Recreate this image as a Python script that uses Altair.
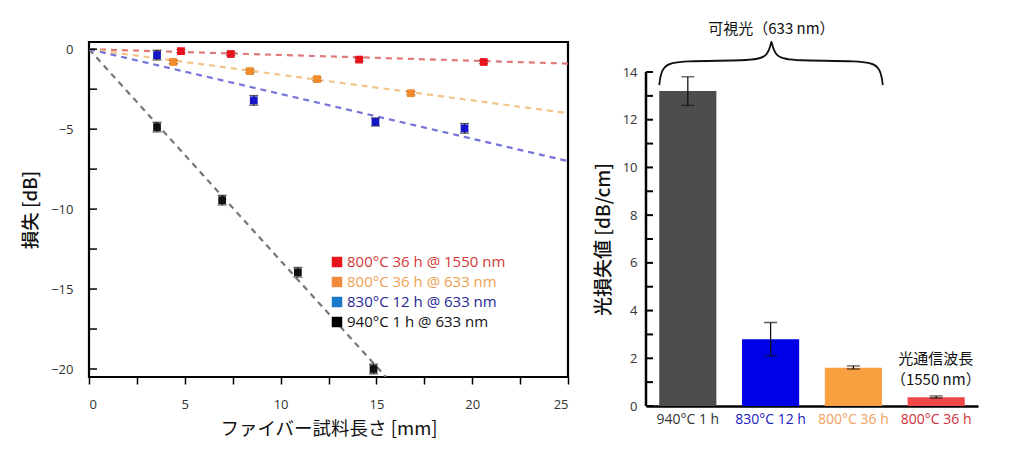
import altair as alt
import pandas as pd

# ---------------- data: left panel (loss vs fiber length) ----------------
series = ["800°C 36 h @ 1550 nm", "800°C 36 h @ 633 nm", "830°C 12 h @ 633 nm", "940°C 1 h @ 633 nm"]
marker_colors = ["#e8141c", "#f08a2a", "#1414c8", "#111111"]
legend_symbol_colors = ["#e8141c", "#f08a3c", "#1a78c8", "#000000"]
legend_text_colors = ["#d43838", "#f0a050", "#262696", "#111111"]
line_colors = ["#e07a7a", "#f2c48a", "#7474dc", "#767676"]

red_x = [4.8, 7.4, 14.1, 20.6]
red_y = [-0.12, -0.3, -0.65, -0.8]
red_err = [0.1, 0.1, 0.1, 0.1]
orange_x = [4.4, 8.4, 11.9, 16.8]
orange_y = [-0.8, -1.37, -1.87, -2.75]
orange_err = [0.1, 0.1, 0.1, 0.1]
blue_x = [3.55, 8.6, 14.95, 19.6]
blue_y = [-0.37, -3.2, -4.55, -4.95]
blue_err = [0.3, 0.3, 0.25, 0.3]
black_x = [3.55, 6.95, 10.9, 14.85]
black_y = [-4.87, -9.44, -13.95, -20.0]
black_err = [0.3, 0.3, 0.3, 0.3]

# fitted dashed lines (start at origin)
fit_end_x = [25, 25, 25, 15.5]
fit_end_y = [-0.9, -4.0, -7.0, -20.5]

x_tick_values = [0, 2.5, 5, 7.5, 10, 12.5, 15, 17.5, 20, 22.5, 25]
y_tick_values = [0, -2.5, -5, -7.5, -10, -12.5, -15, -17.5, -20]

# ---------------- data: right panel (loss per cm) ----------------
bar_labels = ["940°C 1 h", "830°C 12 h", "800°C 36 h", "800°C 36 h "]
bar_values = [13.2, 2.8, 1.6, 0.37]
bar_err_lo = [12.6, 2.1, 1.55, 0.33]
bar_err_hi = [13.8, 3.5, 1.68, 0.42]
bar_colors = ["#4d4d4d", "#0000e6", "#f9a040", "#f04848"]
bar_label_colors = ["#333333", "#2020c0", "#f0a060", "#d03040"]
bar_y_ticks = list(range(0, 15))

brace_x = [0.16, 0.19, 0.42, 1.25, 1.47, 1.515, 1.515, 1.56, 1.78, 2.6, 2.83, 2.86]
brace_y = [13.45, 14.3, 14.47, 14.47, 14.6, 15.3, 15.3, 14.6, 14.47, 14.47, 14.3, 13.45]

FONT_NUM = "Open Sans"
FONT_JP = "Noto Sans CJK JP"

# ---------------- left chart ----------------
W1, H1 = 479, 335
pts_rows, fit_rows = [], []
for name, col, xs, ys, es in [
    (series[0], marker_colors[0], red_x, red_y, red_err),
    (series[1], marker_colors[1], orange_x, orange_y, orange_err),
    (series[2], marker_colors[2], blue_x, blue_y, blue_err),
    (series[3], marker_colors[3], black_x, black_y, black_err),
]:
    for x, y, e in zip(xs, ys, es):
        pts_rows.append({"series": name, "col": col, "x": x, "y": y, "lo": y - e, "hi": y + e})
for name, lc, ex, ey in zip(series, line_colors, fit_end_x, fit_end_y):
    fit_rows.append({"series": name, "col": lc, "x": 0, "y": 0})
    fit_rows.append({"series": name, "col": lc, "x": ex, "y": ey})
pts = pd.DataFrame(pts_rows)
fits = pd.DataFrame(fit_rows)

xs1 = alt.Scale(domain=[0, 25], nice=False)
ys1 = alt.Scale(domain=[-20.5, 0.45], nice=False)

x_axis1 = alt.Axis(values=x_tick_values, labelExpr="datum.value % 5 == 0 ? datum.label : ''",
                   title="ファイバー試料長さ [mm]", titleFont=FONT_JP, titleFontSize=18.5,
                   titleFontWeight="normal", titleColor="#111", titlePadding=8,
                   labelFont=FONT_NUM, labelFontSize=13, labelColor="#333",
                   tickColor="black", tickSize=7, tickWidth=1.5, domain=False, grid=False,
                   labelPadding=14)
y_axis1 = alt.Axis(values=y_tick_values, labelExpr="datum.value % 5 == 0 ? datum.label : ''",
                   title="損失 [dB]", titleFont=FONT_JP, titleFontSize=18.5,
                   titleFontWeight=500, titleColor="#111", titlePadding=10,
                   labelFont=FONT_NUM, labelFontSize=13, labelColor="#333",
                   ticks=False, domain=False, grid=False, labelPadding=16)

fit_layer = alt.Chart(fits).mark_line(strokeDash=[6, 5], strokeWidth=2.2, clip=True).encode(
    x=alt.X("x:Q", scale=xs1, axis=x_axis1),
    y=alt.Y("y:Q", scale=ys1, axis=y_axis1),
    color=alt.Color("col:N", scale=None),
    detail="series:N",
)
err_layer = alt.Chart(pts).mark_errorbar(ticks=alt.TickConfig(size=9), thickness=1.3).encode(
    x=alt.X("x:Q", scale=xs1),
    y=alt.Y("lo:Q", scale=ys1, title=""),
    y2="hi:Q",
    color=alt.value("#111"),
)
pt_layer = alt.Chart(pts).mark_square(size=60, opacity=1).encode(
    x=alt.X("x:Q", scale=xs1),
    y=alt.Y("y:Q", scale=ys1),
    color=alt.Color("col:N", scale=None),
)
ytick_df = pd.DataFrame({"v": y_tick_values})
ytick_layer = alt.Chart(ytick_df).mark_rule(color="black", strokeWidth=1.5).encode(
    y=alt.Y("v:Q", scale=ys1),
    x=alt.value(0), x2=alt.value(8),
)

leg_df = pd.DataFrame({
    "series": series, "i": list(range(len(series))),
    "sc": legend_symbol_colors, "tc": legend_text_colors,
})
leg_sym = alt.Chart(leg_df).transform_calculate(py="220 + datum.i * 20").mark_square(size=110, opacity=1).encode(
    x=alt.value(248),
    y=alt.Y("py:Q", scale=None),
    color=alt.Color("sc:N", scale=None),
)
leg_txt = alt.Chart(leg_df).transform_calculate(py="220 + datum.i * 20").mark_text(
    align="left", baseline="middle", font=FONT_NUM, fontSize=15
).encode(
    x=alt.value(258),
    y=alt.Y("py:Q", scale=None),
    text="series:N",
    color=alt.Color("tc:N", scale=None),
)

left = alt.layer(fit_layer, err_layer, pt_layer, ytick_layer, leg_sym, leg_txt).properties(
    width=W1, height=H1,
    view=alt.ViewBackground(stroke="black", strokeWidth=2.2),
)

# ---------------- right chart ----------------
W2, H2 = 332, 364
YMAX2 = 14 * H2 / 334
bars = pd.DataFrame({"cat": bar_labels, "v": bar_values, "lo": bar_err_lo, "hi": bar_err_hi,
                     "col": bar_colors})
xs2 = alt.Scale(domain=bar_labels, paddingInner=0.31, paddingOuter=0.16)
ys2 = alt.Scale(domain=[0, YMAX2], nice=False)

color_expr = " : ".join(
    f"datum.value === '{l}' ? '{c}'" for l, c in zip(bar_labels[:-1], bar_label_colors[:-1])
) + f" : '{bar_label_colors[-1]}'"

x_axis2 = alt.Axis(title=None, labelAngle=0, labelFont=FONT_NUM, labelFontSize=14,
                   labelColor=alt.ExprRef(expr=color_expr), ticks=False, domainColor="black",
                   domainWidth=2.5, labelPadding=6)
y_axis2 = alt.Axis(values=list(range(0, 15, 2)), title="光損失値 [dB/cm]", titleFont=FONT_JP,
                   titleFontSize=19, titleFontWeight=500, titleColor="#111", titlePadding=9,
                   titleY=197,
                   labelFont=FONT_NUM, labelFontSize=13, labelColor="#333",
                   ticks=False, domain=False, grid=False, labelPadding=9)

bar_layer = alt.Chart(bars).mark_bar().encode(
    x=alt.X("cat:N", scale=xs2, axis=x_axis2, sort=bar_labels),
    y=alt.Y("v:Q", scale=ys2, axis=y_axis2),
    color=alt.Color("col:N", scale=None),
)
bar_err = alt.Chart(bars).mark_errorbar(ticks=alt.TickConfig(size=13), thickness=1.3).encode(
    x=alt.X("cat:N", scale=xs2, sort=bar_labels),
    y=alt.Y("lo:Q", scale=ys2, title=""),
    y2="hi:Q",
    color=alt.value("#111"),
)
ytk2 = alt.Chart(pd.DataFrame({"v": bar_y_ticks})).mark_rule(color="black", strokeWidth=2).encode(
    y=alt.Y("v:Q", scale=ys2), x=alt.value(0), x2=alt.value(7),
)
yline2 = alt.Chart(pd.DataFrame({"a": [0], "b": [14]})).mark_rule(color="black", strokeWidth=2.5).encode(
    y=alt.Y("a:Q", scale=ys2), y2="b:Q", x=alt.value(0),
)
bars_group = alt.layer(bar_layer, bar_err, ytk2, yline2)

brace_df = pd.DataFrame({"bx": brace_x, "by": brace_y, "o": list(range(len(brace_x)))})
brace = alt.Chart(brace_df).mark_line(color="#111", strokeWidth=1.8, interpolate="basis").encode(
    x=alt.X("bx:Q", scale=alt.Scale(domain=[0, 4.01], nice=False), axis=None),
    y=alt.Y("by:Q", scale=ys2),
    order="o:Q",
)
ann_df = pd.DataFrame({
    "tx": [1.515, 3.5, 3.5],
    "ty": [15.8, 1.98, 1.07],
    "t": ["可視光（633 nm）", "光通信波長", "（1550 nm）"],
})
ann = alt.Chart(ann_df).mark_text(font=FONT_JP, fontSize=15, color="#111", baseline="middle").encode(
    x=alt.X("tx:Q", scale=alt.Scale(domain=[0, 4.01], nice=False), axis=None),
    y=alt.Y("ty:Q", scale=ys2),
    text="t:N",
)
right = alt.layer(bars_group, alt.layer(brace, ann)).resolve_scale(x="independent").properties(
    width=W2, height=H2,
    view=alt.ViewBackground(stroke="transparent", strokeWidth=0),
)

chart = alt.hconcat(left, right, spacing=24).configure_view(stroke="transparent").configure(
    font=FONT_NUM
).properties(padding={"left": 12, "top": 14, "right": 5, "bottom": 5})

chart.save("out.html", embed_options={"renderer": "svg", "actions": False})
